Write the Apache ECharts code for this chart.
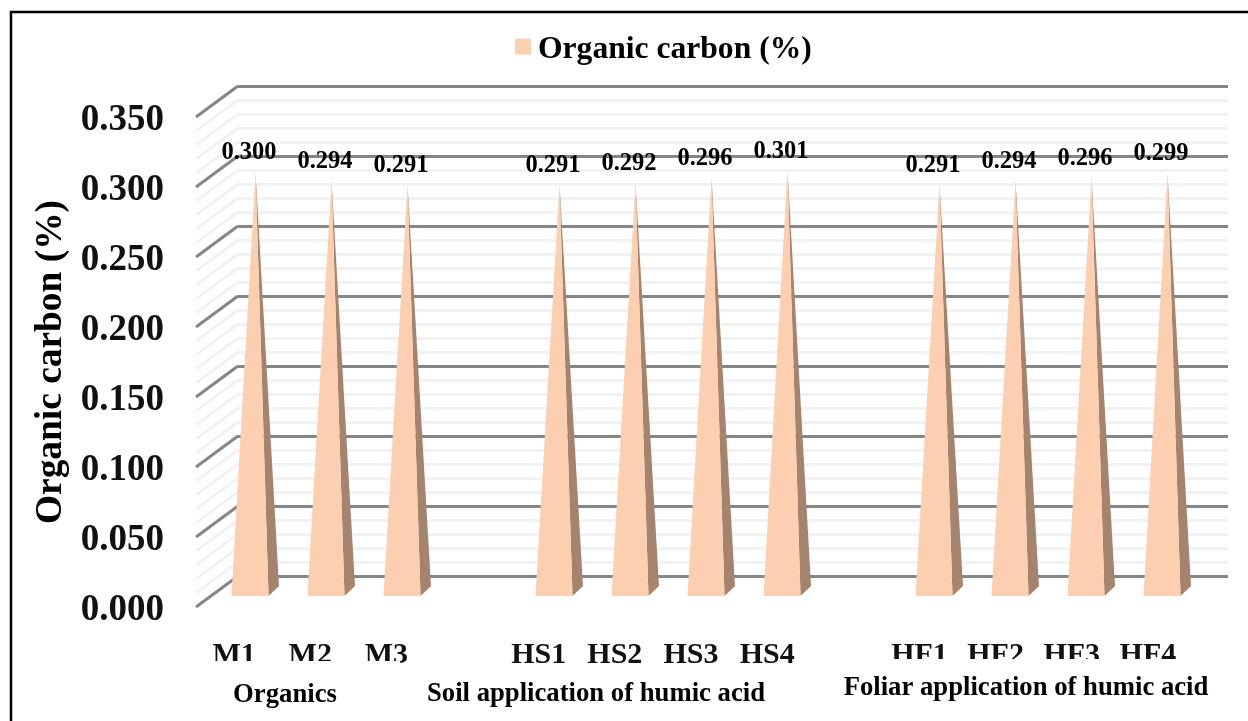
<!DOCTYPE html>
<html><head><meta charset="utf-8">
<style>html,body{margin:0;padding:0;background:#fff}#c{width:1248px;height:721px}</style>
<script src="https://cdn.jsdelivr.net/npm/echarts@6/dist/echarts.min.js"></script>
</head><body><div id="c"></div>
<script>
const categories = ['M1','M2','M3','','HS1','HS2','HS3','HS4','','HF1','HF2','HF3','HF4'];
const organicCarbon = [0.300,0.294,0.291,null,0.291,0.292,0.296,0.301,null,0.291,0.294,0.296,0.299];
const wallLevels = [0,0.01,0.02,0.03,0.04,0.05,0.06,0.07,0.08,0.09,0.10,0.11,0.12,0.13,0.14,0.15,0.16,0.17,0.18,0.19,0.20,0.21,0.22,0.23,0.24,0.25,0.26,0.27,0.28,0.29,0.30,0.31,0.32,0.33,0.34,0.35];
const font = '"Liberation Serif","Times New Roman",serif';
const chart = echarts.init(document.getElementById('c'));
const yBase = {type:'value',min:0,max:0.35,interval:0.05};
chart.setOption({
  animation:false,
  backgroundColor:'#fff',
  legend:{data:['Organic carbon (%)'],left:510,top:29,padding:5,icon:'rect',itemWidth:16,itemHeight:16,itemGap:8,
    formatter:n=>'{a|'+n+'}',
    textStyle:{rich:{a:{fontFamily:font,fontWeight:'bold',fontSize:31.6,color:'#000',padding:[7,0,0,2]}}}},
  grid:[
    {left:196,width:990,top:117,height:490},
    {left:238,width:990,top:86,height:490},
    {left:212,width:988,top:101,height:495}
  ],
  xAxis:[
    {gridIndex:0,type:'category',data:categories,axisLine:{show:false},axisTick:{show:false},
     axisLabel:{interval:0,margin:33,fontFamily:font,fontWeight:'bold',fontSize:30,color:'#111'}},
    {gridIndex:1,type:'category',data:categories,show:false},
    {gridIndex:2,type:'category',data:categories,show:false}
  ],
  yAxis:[
    Object.assign({},yBase,{gridIndex:0,name:'Organic carbon (%)',nameLocation:'middle',nameGap:125,
      nameTextStyle:{fontFamily:font,fontWeight:'bold',fontSize:37.4,color:'#000'},
      axisLine:{show:false},axisTick:{show:false},splitLine:{show:false},
      axisLabel:{margin:32,formatter:v=>'{a|'+v.toFixed(3)+'}',
        rich:{a:{padding:[6,0,0,0],fontFamily:font,fontWeight:'bold',fontSize:37,color:'#111'}}}}),
    Object.assign({},yBase,{gridIndex:1,axisLine:{show:false},axisTick:{show:false},axisLabel:{show:false},
      splitLine:{show:true,lineStyle:{color:'#868686',width:3}},
      minorTick:{show:false,splitNumber:5},
      minorSplitLine:{show:true,lineStyle:{color:'#f2f2f2',width:3}}}),
    Object.assign({},yBase,{gridIndex:2,show:false})
  ],
  series:[
    {type:'custom',name:'wall',xAxisIndex:0,yAxisIndex:0,silent:true,z:1,clip:false,
     data:wallLevels,
     renderItem(p,api){
       const v=api.value(0), a=api.coord([0,v]);
       const major=Math.abs(v/0.05-Math.round(v/0.05))<1e-6;
       const x0=p.coordSys.x;
       return {type:'line',shape:{x1:x0,y1:a[1],x2:x0+42,y2:a[1]-31},
         style:{stroke:major?'#868686':'#f2f2f2',lineWidth:3}};
     },encode:{y:0}},
    {type:'custom',name:'Organic carbon (%)',xAxisIndex:2,yAxisIndex:2,z:5,clip:false,
     itemStyle:{color:'#FBCFB0'},
     data:organicCarbon.map((v,i)=>[i,v]),
     renderItem(p,api){
       const v=api.value(1);
       if(isNaN(v)) return null;
       const top=api.coord([api.value(0),v]), base=api.coord([api.value(0),0]);
       const cx=base[0], by=base[1], hw=18.5;
       const apex=[cx+5.5,top[1]];
       return {type:'group',children:[
         {type:'polygon',shape:{points:[[cx+hw,by],[cx+hw+10.5,by-10],apex]},style:{fill:'#A5836C'}},
         {type:'polygon',shape:{points:[[cx-hw,by],[cx+hw,by],apex]},style:{fill:'#FBCFB0'}},
         {type:'text',x:cx-1,y:top[1]-19,z2:10,style:{text:v.toFixed(3),fontFamily:font,fontWeight:'bold',fontSize:24.5,fill:'#000',align:'center',verticalAlign:'middle'}}
       ]};
     },encode:{x:0,y:1}}
  ],
  graphic:[
    {type:'rect',z:100,shape:{x:200,y:661,width:200,height:50},style:{fill:'#fff'}},
    {type:'rect',z:100,shape:{x:840,y:659,width:375,height:45},style:{fill:'#fff'}},
    {type:'text',z:101,x:285,y:695,style:{text:'Organics',fontFamily:font,fontWeight:'bold',fontSize:26.7,fill:'#000',align:'center',verticalAlign:'middle'}},
    {type:'text',z:101,x:596,y:694,style:{text:'Soil application of humic acid',fontFamily:font,fontWeight:'bold',fontSize:26.7,fill:'#000',align:'center',verticalAlign:'middle'}},
    {type:'text',z:101,x:1026,y:688,style:{text:'Foliar application of humic acid',fontFamily:font,fontWeight:'bold',fontSize:26.7,fill:'#000',align:'center',verticalAlign:'middle'}},
    {type:'rect',z:102,shape:{x:11,y:12,width:1300,height:800},style:{fill:'none',stroke:'#000',lineWidth:2.5}}
  ]
});
</script></body></html>
